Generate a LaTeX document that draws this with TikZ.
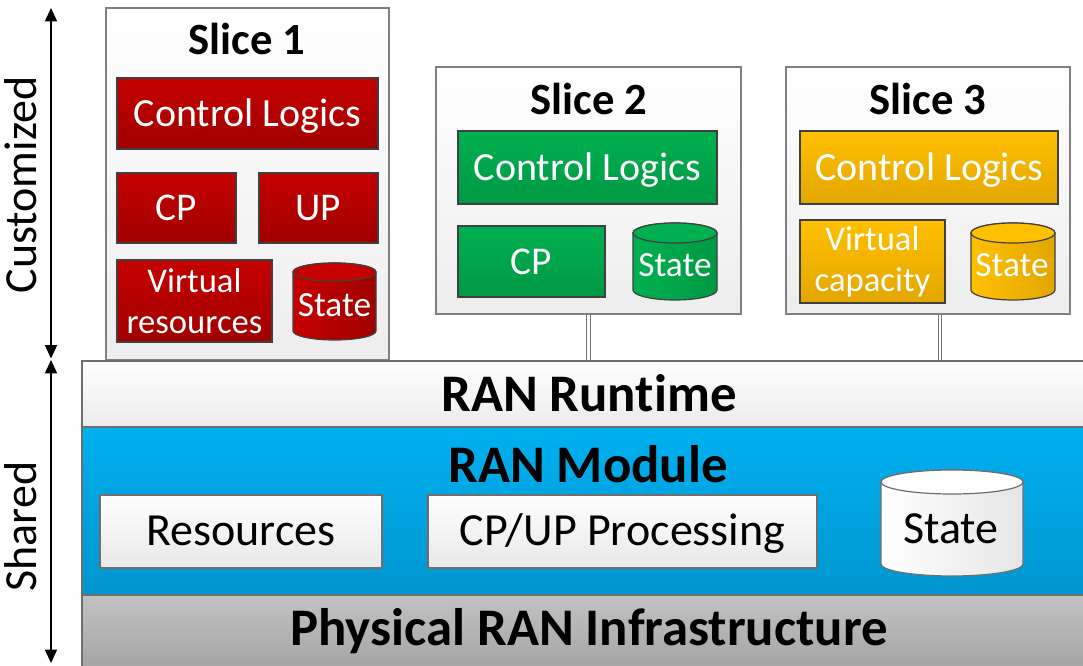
\documentclass[tikz,border=0pt]{standalone}
\usepackage{fontspec}
\setmainfont{Carlito}[Ligatures={NoCommon,NoContextual},RawFeature={-liga;-clig;-dlig}]
\usetikzlibrary{arrows.meta}
\definecolor{redA}{HTML}{C60000}
\definecolor{redB}{HTML}{A00000}
\definecolor{grnA}{HTML}{00B050}
\definecolor{grnB}{HTML}{009944}
\definecolor{gldA}{HTML}{FFC000}
\definecolor{gldB}{HTML}{E3A600}
\definecolor{bluA}{HTML}{00B0F0}
\definecolor{bluB}{HTML}{0096CF}
\definecolor{gryA}{HTML}{C2C2C2}
\definecolor{gryB}{HTML}{A4A4A4}
\definecolor{edge}{HTML}{6E6E6E}
\definecolor{dedge}{HTML}{404040}
\newcommand\drum[7]{%
  \path[#6] (#1-#2,#3-#5) -- (#1-#2,#4+#5) arc[start angle=180,end angle=360,x radius=#2,y radius=#5] -- (#1+#2,#3-#5) arc[start angle=0,end angle=180,x radius=#2,y radius=#5] -- cycle;
  \path[#7] (#1,#3-#5) ellipse[x radius=#2,y radius=#5];
}
\begin{document}
\begin{tikzpicture}[x=0.75pt,y=0.75pt,
  wh/.style 2 args={minimum width=#1*0.75pt,minimum height=#2*0.75pt},
  slicebox/.style={draw=black!50,line width=1.1pt,top color=white,bottom color=black!7,inner sep=0pt},
  colbox/.style={draw=dedge,line width=0.9pt,text=white,inner sep=0pt,font=\fontsize{#1}{#1}\selectfont,text height=0.64*#1pt,text depth=0pt},
  colbox2/.style={draw=dedge,line width=0.9pt,text=white,inner sep=0pt,align=center},
  redbox/.style={top color=redA,bottom color=redB},
  grnbox/.style={top color=grnA,bottom color=grnB},
  gldbox/.style={top color=gldA,bottom color=gldB},
  layer/.style={draw=edge,line width=0.9pt,inner sep=0pt},
  whitebox/.style={draw=edge,line width=0.9pt,top color=white,bottom color=black!9,inner sep=0pt,font=\fontsize{34.5}{40}\selectfont,text height=21pt,text depth=0pt},
  title/.style={font=\fontsize{33.5}{38}\selectfont\bfseries,anchor=base},
  big/.style={font=\fontsize{39.6}{46}\selectfont\bfseries,anchor=base},
  side/.style={font=\fontsize{34.5}{40}\selectfont,anchor=base,rotate=90},
  arr/.style={line width=1.1pt,{Triangle[width=9pt,length=10pt]}-{Triangle[width=9pt,length=10pt]}},
  link/.style={draw=black!55,double=white,double distance=2pt,line width=0.6pt}
]
\useasboundingbox (0,0) rectangle (1083,665);

% slice boxes
\node[slicebox,wh={283}{352}] (s1) at (247.5,481) {};
\node[slicebox,wh={305}{247}] (s2) at (588.5,474.5) {};
\node[slicebox,wh={284}{247}] (s3) at (928,474.5) {};

\node[title] (t1) at (247,610) {Slice 1};
\node[title] (t2) at (589,550) {Slice 2};
\node[title] (t3) at (928,550) {Slice 3};

% slice 1
\node[colbox=30,redbox,wh={261}{71}] (cl1) at (247.5,551.5) {Control Logics};
\node[colbox=29.5,redbox,wh={119}{70}] (cp1) at (176.5,457) {CP};
\node[colbox=29.5,redbox,wh={119}{70}] (up1) at (318.5,457) {UP};
\node[colbox2,redbox,wh={155}{82},font=\fontsize{26}{31}\selectfont] (vr1) at (194.5,364) {Virtual\\resources};
\drum{334.5}{41.5}{402}{325}{9}{draw=dedge,line width=0.9pt,left color=redA,right color=redB}{draw=dedge,line width=0.9pt,fill=redA}
\node[font=\fontsize{26.5}{31}\selectfont,text=white,anchor=base] (st1) at (334.5,348) {State};

% slice 2
\node[colbox=30,grnbox,wh={259}{73}] (cl2) at (587.5,497.5) {Control Logics};
\node[colbox=29.5,grnbox,wh={147}{71}] (cp2) at (531.5,403.5) {CP};
\drum{675}{42}{442}{365}{10}{draw=dedge,line width=0.9pt,left color=grnA,right color=grnB}{draw=dedge,line width=0.9pt,fill=grnA}
\node[font=\fontsize{26.5}{31}\selectfont,text=white,anchor=base] (st2) at (675,388) {State};

% slice 3
\node[colbox=30,gldbox,wh={258}{73}] (cl3) at (929,497.5) {Control Logics};
\node[colbox2,gldbox,wh={145}{83},font=\fontsize{26}{31}\selectfont] (vc3) at (872.5,403.5) {Virtual\\capacity};
\drum{1013}{42}{442}{365}{10}{draw=dedge,line width=0.9pt,left color=gldA,right color=gldB}{draw=dedge,line width=0.9pt,fill=gldA}
\node[font=\fontsize{26.5}{31}\selectfont,text=white,anchor=base] (st3) at (1012,388) {State};

% layers
\node[layer,top color=white,bottom color=black!8,wh={1004}{66}] (rt) at (584,271) {};
\node[layer,top color=bluA,bottom color=bluB,wh={1004}{168}] (mod) at (584,154) {};
\node[layer,top color=gryA,bottom color=gryB,wh={1004}{74}] (phys) at (584,33) {};

\node[big] (rtt) at (589,253) {RAN Runt\kern0pt ime};
\node[big] (modt) at (588,182) {RAN Module};
\node[big] (physt) at (589,20) {Physical RAN Infrastructure};

\node[whitebox,wh={282}{73}] (res) at (241,133.5) {Resources};
\node[whitebox,wh={389}{73}] (cpup) at (622.5,133.5) {CP/UP Processing};
\drum{952}{71}{195}{89}{12}{draw=edge,line width=0.9pt,left color=white,right color=black!10}{draw=edge,line width=0.9pt,fill=white}
\node[font=\fontsize{34.5}{40}\selectfont,anchor=base] (st4) at (951,122) {State};

% links
\draw[link] (s2.south) -- (s2.south |- rt.north);
\draw[link] (s3.south -| 940,0) -- (940,0 |- rt.north);

% side arrows
\coordinate (c1) at (51,657);
\coordinate (c2) at (51,306.5);
\coordinate (c3) at (51,305);
\coordinate (c4) at (51,2);
\draw[arr] (c1) -- (c2);
\draw[arr] (c3) -- (c4);
\node[side] (lc) at (36,480) {Customized};
\node[side] (ls) at (36,138.5) {Shared};
\end{tikzpicture}
\end{document}
